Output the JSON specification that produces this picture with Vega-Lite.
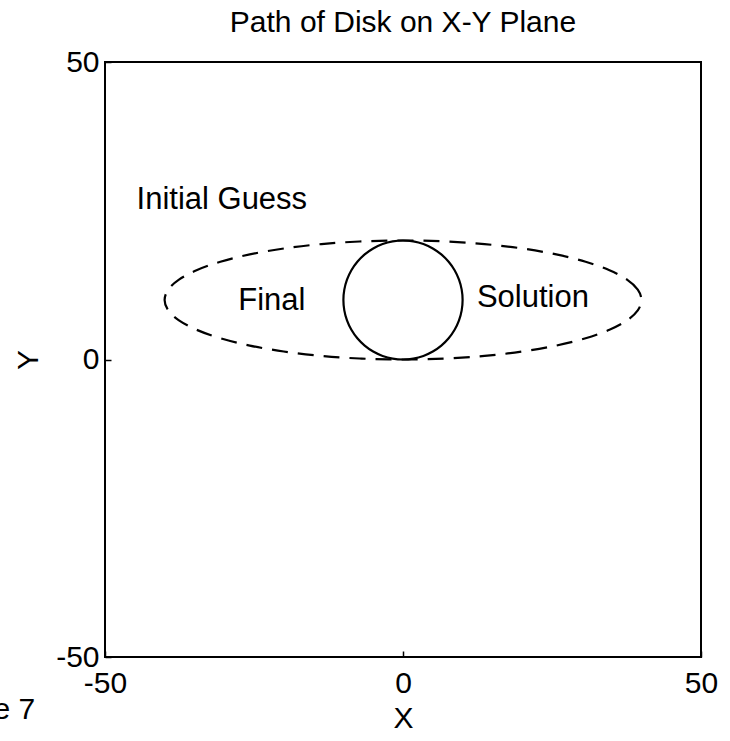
{
  "$schema": "https://vega.github.io/schema/vega-lite/v6.json",
  "width": 596,
  "height": 595,
  "autosize": {"type": "none"},
  "padding": {"left": 105, "top": 62, "right": 29, "bottom": 84},
  "background": "white",
  "title": {"text": "Path of Disk on X-Y Plane", "font": "Liberation Sans", "fontSize": 30, "fontWeight": "normal", "color": "black", "anchor": "middle", "offset": 9},
  "config": {
    "view": {"stroke": "black", "strokeWidth": 2},
    "axis": {"grid": false, "domain": false, "labelFont": "Liberation Sans", "labelFontSize": 30, "labelColor": "black", "titleFont": "Liberation Sans", "titleFontSize": 30, "titleFontWeight": "normal", "titleColor": "black", "tickColor": "black", "tickSize": -6, "tickWidth": 1.5, "labelFlush": false, "labelOverlap": false}
  },
  "datasets": {
    "circle": [
      {"t": 0, "x": 10, "y": 10}, {"t": 1, "x": 9.848, "y": 11.736}, {"t": 2, "x": 9.397, "y": 13.42}, {"t": 3, "x": 8.66, "y": 15},
      {"t": 4, "x": 7.66, "y": 16.428}, {"t": 5, "x": 6.428, "y": 17.66}, {"t": 6, "x": 5, "y": 18.66}, {"t": 7, "x": 3.42, "y": 19.397},
      {"t": 8, "x": 1.736, "y": 19.848}, {"t": 9, "x": 0, "y": 20}, {"t": 10, "x": -1.736, "y": 19.848}, {"t": 11, "x": -3.42, "y": 19.397},
      {"t": 12, "x": -5, "y": 18.66}, {"t": 13, "x": -6.428, "y": 17.66}, {"t": 14, "x": -7.66, "y": 16.428}, {"t": 15, "x": -8.66, "y": 15},
      {"t": 16, "x": -9.397, "y": 13.42}, {"t": 17, "x": -9.848, "y": 11.736}, {"t": 18, "x": -10, "y": 10}, {"t": 19, "x": -9.848, "y": 8.264},
      {"t": 20, "x": -9.397, "y": 6.58}, {"t": 21, "x": -8.66, "y": 5}, {"t": 22, "x": -7.66, "y": 3.572}, {"t": 23, "x": -6.428, "y": 2.34},
      {"t": 24, "x": -5, "y": 1.34}, {"t": 25, "x": -3.42, "y": 0.603}, {"t": 26, "x": -1.736, "y": 0.152}, {"t": 27, "x": 0, "y": 0},
      {"t": 28, "x": 1.736, "y": 0.152}, {"t": 29, "x": 3.42, "y": 0.603}, {"t": 30, "x": 5, "y": 1.34}, {"t": 31, "x": 6.428, "y": 2.34},
      {"t": 32, "x": 7.66, "y": 3.572}, {"t": 33, "x": 8.66, "y": 5}, {"t": 34, "x": 9.397, "y": 6.58}, {"t": 35, "x": 9.848, "y": 8.264}
    ],
    "ellipse": [
      {"t": 0, "x": 40, "y": 10}, {"t": 1, "x": 39.39, "y": 11.736}, {"t": 2, "x": 37.59, "y": 13.42}, {"t": 3, "x": 34.64, "y": 15},
      {"t": 4, "x": 30.64, "y": 16.428}, {"t": 5, "x": 25.71, "y": 17.66}, {"t": 6, "x": 20, "y": 18.66}, {"t": 7, "x": 13.68, "y": 19.397},
      {"t": 8, "x": 6.94, "y": 19.848}, {"t": 9, "x": 0, "y": 20}, {"t": 10, "x": -6.94, "y": 19.848}, {"t": 11, "x": -13.68, "y": 19.397},
      {"t": 12, "x": -20, "y": 18.66}, {"t": 13, "x": -25.71, "y": 17.66}, {"t": 14, "x": -30.64, "y": 16.428}, {"t": 15, "x": -34.64, "y": 15},
      {"t": 16, "x": -37.59, "y": 13.42}, {"t": 17, "x": -39.39, "y": 11.736}, {"t": 18, "x": -40, "y": 10}, {"t": 19, "x": -39.39, "y": 8.264},
      {"t": 20, "x": -37.59, "y": 6.58}, {"t": 21, "x": -34.64, "y": 5}, {"t": 22, "x": -30.64, "y": 3.572}, {"t": 23, "x": -25.71, "y": 2.34},
      {"t": 24, "x": -20, "y": 1.34}, {"t": 25, "x": -13.68, "y": 0.603}, {"t": 26, "x": -6.94, "y": 0.152}, {"t": 27, "x": 0, "y": 0},
      {"t": 28, "x": 6.94, "y": 0.152}, {"t": 29, "x": 13.68, "y": 0.603}, {"t": 30, "x": 20, "y": 1.34}, {"t": 31, "x": 25.71, "y": 2.34},
      {"t": 32, "x": 30.64, "y": 3.572}, {"t": 33, "x": 34.64, "y": 5}, {"t": 34, "x": 37.59, "y": 6.58}, {"t": 35, "x": 39.39, "y": 8.264}
    ],
    "labels": [
      {"x": -30.4, "y": 26.8, "label": "Initial Guess"},
      {"x": -22, "y": 9.9, "label": "Final"},
      {"x": 21.8, "y": 10.3, "label": "Solution"}
    ],
    "stray": [
      {"x": -61.7, "y": -58.9, "label": "e 7"}
    ]
  },
  "encoding": {
    "x": {"field": "x", "type": "quantitative", "scale": {"domain": [-50, 50], "nice": false, "zero": false}, "axis": {"title": "X", "values": [-50, 0, 50], "labelExpr": "'' + datum.value", "labelPadding": 17, "titlePadding": 5}},
    "y": {"field": "y", "type": "quantitative", "scale": {"domain": [-50, 50], "nice": false, "zero": false}, "axis": {"title": "Y", "values": [-50, 0, 50], "labelExpr": "'' + datum.value", "labelPadding": 12, "titlePadding": 12}}
  },
  "layer": [
    {
      "data": {"name": "ellipse"},
      "mark": {"type": "line", "interpolate": "cardinal-closed", "color": "black", "strokeWidth": 2.2, "strokeDash": [16, 10]},
      "encoding": {"order": {"field": "t", "type": "quantitative"}}
    },
    {
      "data": {"name": "circle"},
      "mark": {"type": "line", "interpolate": "cardinal-closed", "color": "black", "strokeWidth": 2.2},
      "encoding": {"order": {"field": "t", "type": "quantitative"}}
    },
    {
      "data": {"name": "labels"},
      "mark": {"type": "text", "font": "Liberation Sans", "fontSize": 31, "color": "black", "align": "center", "baseline": "middle"},
      "encoding": {"text": {"field": "label"}}
    },
    {
      "data": {"name": "stray"},
      "mark": {"type": "text", "font": "Liberation Sans", "fontSize": 30, "color": "black", "align": "right", "baseline": "middle", "clip": false},
      "encoding": {"text": {"field": "label"}}
    }
  ]
}
